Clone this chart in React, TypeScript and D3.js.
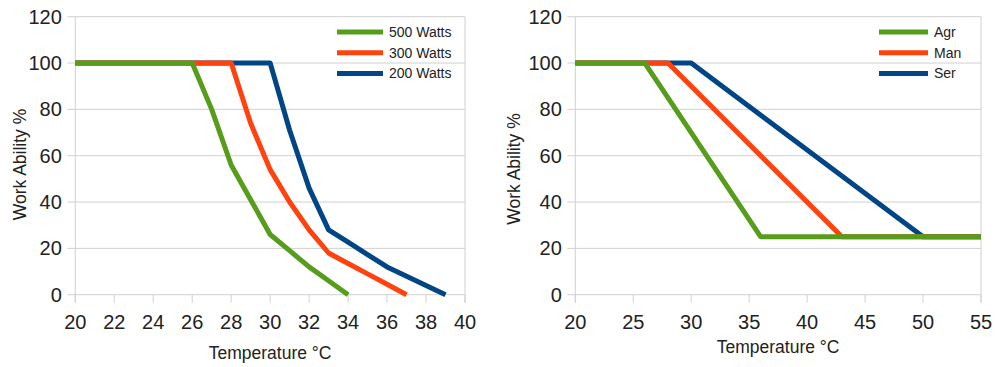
import React from "react";
import * as d3 from "d3";

// ---- Data ----
const leftTicksX = [20, 22, 24, 26, 28, 30, 32, 34, 36, 38, 40];
const rightTicksX = [20, 25, 30, 35, 40, 45, 50, 55];
const ticksY = [0, 20, 40, 60, 80, 100, 120];

const w500Temp = [20, 26, 27, 28, 29, 30, 31, 32, 33, 34];
const w500Val = [100, 100, 80, 56, 41, 26, 19, 12, 6, 0];
const w300Temp = [20, 28, 29, 30, 31, 32, 33, 34, 35, 36, 37];
const w300Val = [100, 100, 74, 54, 40, 28, 18, 13.5, 9, 4.5, 0];
const w200Temp = [20, 30, 31, 32, 33, 34, 35, 36, 37, 38, 39];
const w200Val = [100, 100, 71, 46, 28, 22.7, 17.3, 12, 8, 4, 0];

const agrTemp = [20, 26, 36, 55];
const agrVal = [100, 100, 25, 25];
const manTemp = [20, 28, 43, 55];
const manVal = [100, 100, 25, 25];
const serTemp = [20, 30, 50, 55];
const serVal = [100, 100, 25, 25];

const leftNames = ["500 Watts", "300 Watts", "200 Watts"];
const rightNames = ["Agr", "Man", "Ser"];
const colors = ["#579d1c", "#ff420e", "#004586"];

type Series = { name: string; t: number[]; v: number[]; color: string };

const leftSeries: Series[] = [
  { name: leftNames[0], t: w500Temp, v: w500Val, color: colors[0] },
  { name: leftNames[1], t: w300Temp, v: w300Val, color: colors[1] },
  { name: leftNames[2], t: w200Temp, v: w200Val, color: colors[2] },
];
const rightSeries: Series[] = [
  { name: rightNames[0], t: agrTemp, v: agrVal, color: colors[0] },
  { name: rightNames[1], t: manTemp, v: manVal, color: colors[1] },
  { name: rightNames[2], t: serTemp, v: serVal, color: colors[2] },
];

const FONT = "'Liberation Sans', Arial, sans-serif";
const TEXT = "#222";
const GRID = "#d0d0d0";

type PanelProps = {
  x0: number;
  x1: number;
  domain: [number, number];
  ticksX: number[];
  series: Series[];
  legendX: number;
  legendW: number;
  yTitleX: number;
  yTitleY: number;
  xTitleY: number;
};

function Panel(p: PanelProps) {
  const y = d3.scaleLinear().domain([0, 120]).range([294.7, 16.7]);
  const x = d3.scaleLinear().domain(p.domain).range([p.x0, p.x1]);
  const line = d3
    .line<[number, number]>()
    .x((d) => x(d[0]))
    .y((d) => y(d[1]));
  const yBottom = y(0);
  return (
    <g>
      {ticksY.map((t) => (
        <g key={"gy" + t}>
          <line x1={p.x0 - 8} x2={p.x1} y1={y(t)} y2={y(t)} stroke={GRID} strokeWidth={1} />
          <text
            x={p.x0 - 13.5}
            y={y(t)}
            textAnchor="end"
            dominantBaseline="central"
            fontFamily={FONT}
            fontSize={20}
            fill={TEXT}
          >
            {t}
          </text>
        </g>
      ))}
      <line x1={p.x0} x2={p.x0} y1={y(120)} y2={yBottom + 8} stroke={GRID} strokeWidth={1} />
      <line x1={p.x1} x2={p.x1} y1={y(120)} y2={yBottom + 8} stroke={GRID} strokeWidth={1} />
      {p.ticksX.map((t) => (
        <g key={"gx" + t}>
          <line x1={x(t)} x2={x(t)} y1={yBottom} y2={yBottom + 8} stroke={GRID} strokeWidth={1} />
          <text
            x={x(t)}
            y={328.5}
            textAnchor="middle"
            fontFamily={FONT}
            fontSize={20}
            fill={TEXT}
          >
            {t}
          </text>
        </g>
      ))}
      {[...p.series].reverse().map((s) => (
        <path
          key={s.name}
          d={line(s.t.map((t, i) => [t, s.v[i]] as [number, number])) || ""}
          fill="none"
          stroke={s.color}
          strokeWidth={5}
          strokeLinejoin="round"
        />
      ))}
      {p.series.map((s, i) => (
        <g key={"lg" + s.name}>
          <line
            x1={p.legendX}
            x2={p.legendX + p.legendW}
            y1={32 + i * 20.7}
            y2={32 + i * 20.7}
            stroke={s.color}
            strokeWidth={5}
          />
          <text
            x={p.legendX + p.legendW + 6}
            y={32 + i * 20.7}
            dominantBaseline="central"
            fontFamily={FONT}
            fontSize={14}
            fill={TEXT}
          >
            {s.name}
          </text>
        </g>
      ))}
      <text
        x={(p.x0 + p.x1) / 2}
        y={p.xTitleY}
        textAnchor="middle"
        fontFamily={FONT}
        fontSize={17.5}
        fill={TEXT}
      >
        Temperature °C
      </text>
      <text
        transform={`translate(${p.yTitleX},${p.yTitleY}) rotate(-90)`}
        textAnchor="middle"
        dominantBaseline="central"
        fontFamily={FONT}
        fontSize={17.5}
        fill={TEXT}
      >
        Work Ability %
      </text>
    </g>
  );
}

export default function App() {
  return (
    <svg
      width={995}
      height={367}
      style={{ position: "absolute", left: 0, top: 0, background: "#fff" }}
    >
      <rect width={995} height={367} fill="#fff" />
      <Panel
        x0={75.3}
        x1={465}
        domain={[20, 40]}
        ticksX={leftTicksX}
        series={leftSeries}
        legendX={337}
        legendW={46}
        yTitleX={20}
        yTitleY={164.5}
        xTitleY={359}
      />
      <Panel
        x0={575.3}
        x1={981}
        domain={[20, 55]}
        ticksX={rightTicksX}
        series={rightSeries}
        legendX={879}
        legendW={49}
        yTitleX={514}
        yTitleY={169}
        xTitleY={353}
      />
    </svg>
  );
}
